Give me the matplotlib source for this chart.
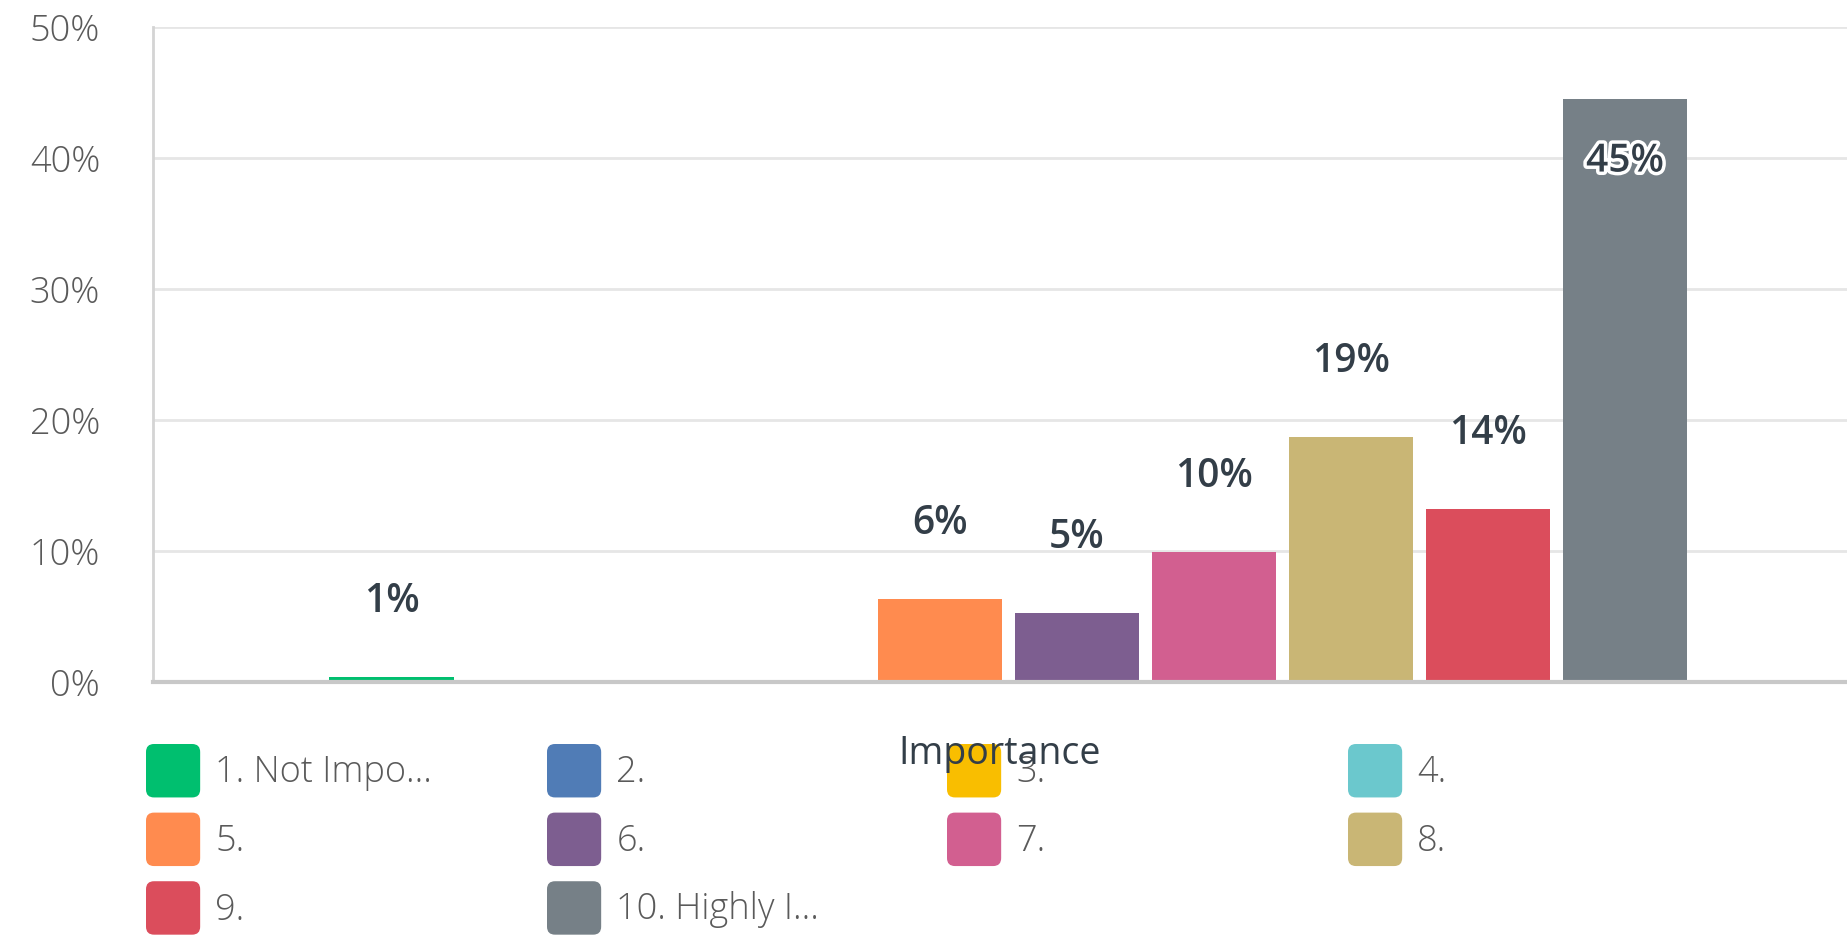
import matplotlib
matplotlib.use("Agg")
import matplotlib.pyplot as plt
import matplotlib.patheffects as pe
from matplotlib.patches import Patch, FancyBboxPatch
from matplotlib.legend_handler import HandlerPatch
import numpy as np

# data
categories = ["1. Not Impo...", "2.", "3.", "4.", "5.", "6.", "7.", "8.", "9.", "10. Highly I..."]
values = [0.4, 0, 0, 0, 6.3, 5.3, 9.9, 18.7, 13.2, 44.5]
value_labels = ["1%", "", "", "", "6%", "5%", "10%", "19%", "14%", "45%"]
colors = ["#00BF6F", "#507CB6", "#F9BE00", "#6BC8CD", "#FF8B4F",
          "#7D5E90", "#D25F90", "#C9B675", "#DB4D5C", "#768087"]
yticks = [0, 10, 20, 30, 40, 50]
ytick_labels = ["0%", "10%", "20%", "30%", "40%", "50%"]

dark = "#333E48"
grey_text = "#5a5a5a"


class RoundBox(HandlerPatch):
    def create_artists(self, legend, orig_handle, xdescent, ydescent,
                       width, height, fontsize, trans):
        p = FancyBboxPatch((-xdescent, -ydescent), width, height,
                           boxstyle="round,pad=0,rounding_size=%f" % (fontsize * 0.22),
                           facecolor=orig_handle.get_facecolor(),
                           edgecolor="none", transform=trans)
        return [p]


fig = plt.figure(figsize=(18.47, 9.4), dpi=100)
ax = fig.add_axes([153 / 1847, 1 - 682 / 940, 1 - 153 / 1847, (682 - 27) / 940])

x = np.arange(len(values))
bars = ax.bar(x, values, width=0.91, color=colors, zorder=3)

for xi, v, lab in zip(x, values, value_labels):
    if not lab:
        continue
    if v > 40:
        t = ax.annotate(lab, (xi, v), xytext=(0, -45), textcoords="offset points",
                        ha="center", va="center", fontsize=28, fontweight=600,
                        family="Open Sans", color=dark, zorder=5)
        t.set_path_effects([pe.withStroke(linewidth=5, foreground="white")])
    else:
        ax.annotate(lab, (xi, v), xytext=(0, 54), textcoords="offset points",
                    ha="center", va="center", fontsize=28, fontweight=600,
                    family="Open Sans", color=dark, zorder=5)

ax.set_xlim(-1.743, 10.62)
ax.set_ylim(0, 50)
ax.set_yticks(yticks)
ax.set_yticklabels(ytick_labels, fontsize=26, color=grey_text, family="Open Sans", fontweight=300)
ax.set_xticks([])
ax.tick_params(axis="y", length=0, pad=38)
ax.grid(axis="y", color="#e6e6e6", linewidth=2, zorder=0)

for s in ["top", "right"]:
    ax.spines[s].set_visible(False)
ax.spines["left"].set_color("#d4d4d4")
ax.spines["left"].set_linewidth(2)
ax.spines["bottom"].set_color("#c8c8c8")
ax.spines["bottom"].set_linewidth(3)
ax.spines["bottom"].set_zorder(4)

ax.set_xlabel("Importance", fontsize=27, color=dark, family="Open Sans")
ax.xaxis.label.set_va("center")
ax.xaxis.set_label_coords(0.5, -72 / 655)

# legend: 4 columns laid out row by row
handles = [Patch(facecolor=c, label=l) for c, l in zip(colors, categories)]
col_x = [146, 547, 947, 1348]
for c, cx in enumerate(col_x):
    hs = handles[c::4]
    leg = fig.legend(handles=hs, labels=[h.get_label() for h in hs],
                     loc="upper left", bbox_to_anchor=(cx / 1847, 1 - 744 / 940),
                     frameon=False, borderpad=0, borderaxespad=0,
                     handlelength=1.5, handleheight=1.9, handletextpad=0.42,
                     labelspacing=0.42,
                     prop={"family": "Open Sans", "weight": 300, "size": 26},
                     labelcolor=grey_text, handler_map={Patch: RoundBox()})
    leg.set_zorder(-1)

fig.savefig("out.png", dpi=100, facecolor="white")
